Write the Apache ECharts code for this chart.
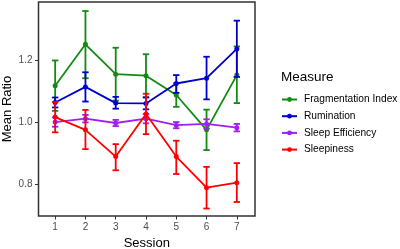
<!DOCTYPE html>
<html><head><meta charset="utf-8">
<script src="https://cdn.jsdelivr.net/npm/echarts@6/dist/echarts.min.js"></script>
<style>html,body{margin:0;padding:0;background:#fff}#c{width:400px;height:249px}</style>
</head><body><div id="c"></div>
<script>
const sessions = [1, 2, 3, 4, 5, 6, 7];
const xTicks = [1, 2, 3, 4, 5, 6, 7];
const yTicks = [0.8, 1.0, 1.2];
const seriesNames = ['Fragmentation Index', 'Rumination', 'Sleep Efficiency', 'Sleepiness'];
const fragMean = [1.117, 1.250, 1.154, 1.149, 1.087, 0.975, 1.151];
const fragLo   = [1.036, 1.141, 1.069, 1.080, 1.049, 0.910, 1.061];
const fragHi   = [1.198, 1.357, 1.239, 1.218, 1.125, 1.040, 1.243];
const rumMean  = [1.063, 1.113, 1.061, 1.060, 1.124, 1.141, 1.235];
const rumLo    = [1.047, 1.066, 1.043, 1.041, 1.094, 1.073, 1.145];
const rumHi    = [1.079, 1.160, 1.081, 1.079, 1.151, 1.210, 1.326];
const effMean  = [1.000, 1.011, 0.997, 1.011, 0.990, 0.994, 0.982];
const effLo    = [0.985, 0.999, 0.987, 0.996, 0.980, 0.979, 0.970];
const effHi    = [1.015, 1.023, 1.007, 1.026, 1.000, 1.009, 0.994];
const slpMean  = [1.016, 0.975, 0.889, 1.026, 0.889, 0.789, 0.805];
const slpLo    = [0.967, 0.913, 0.845, 0.961, 0.833, 0.722, 0.743];
const slpHi    = [1.064, 1.039, 0.929, 1.091, 0.940, 0.856, 0.868];
const colors = ['#138a13', '#0000cd', '#a020f0', '#ff0000'];

const means = [fragMean, rumMean, effMean, slpMean];
const los = [fragLo, rumLo, effLo, slpLo];
const his = [fragHi, rumHi, effHi, slpHi];

const chart = echarts.init(document.getElementById('c'), null, {renderer: 'canvas'});
const series = [];
seriesNames.forEach((name, i) => {
  series.push({
    name: name,
    type: 'line',
    data: sessions.map((s, k) => [s, means[i][k]]),
    symbol: 'circle',
    symbolSize: 5,
    lineStyle: {width: 1.8, color: colors[i]},
    itemStyle: {color: colors[i]},
    z: 2 + i * 2,
    animation: false
  });
  series.push({
    name: name + ' err',
    type: 'custom',
    data: sessions.map((s, k) => [s, los[i][k], his[i][k]]),
    encode: {x: 0, y: [1, 2]},
    z: 3 + i * 2,
    animation: false,
    renderItem: function (params, api) {
      const x = api.value(0);
      const lo = api.coord([x, api.value(1)]);
      const hi = api.coord([x, api.value(2)]);
      const hw = 3.2;
      const st = {stroke: colors[i], lineWidth: 1.8, fill: null};
      return {type: 'group', children: [
        {type: 'line', shape: {x1: lo[0], y1: lo[1], x2: hi[0], y2: hi[1]}, style: st},
        {type: 'line', shape: {x1: lo[0] - hw, y1: lo[1], x2: lo[0] + hw, y2: lo[1]}, style: st},
        {type: 'line', shape: {x1: hi[0] - hw, y1: hi[1], x2: hi[0] + hw, y2: hi[1]}, style: st}
      ]};
    }
  });
});

chart.setOption({
  backgroundColor: '#fff',
  animation: false,
  textStyle: {fontFamily: 'Liberation Sans, Arial, sans-serif'},
  title: {
    text: 'Measure', left: 276, top: 65,
    textStyle: {fontSize: 13.5, fontWeight: 'normal', color: '#000', fontFamily: 'Liberation Sans'}
  },
  legend: {
    data: seriesNames,
    orient: 'vertical',
    left: 276, top: 87.5,
    itemWidth: 15, itemHeight: 6,
    itemGap: 2.7,
    textStyle: {fontSize: 10.2, color: '#000', lineHeight: 14, padding: [0, 0, 0, 2], fontFamily: 'Liberation Sans'}
  },
  grid: {left: 38.5, top: 2, right: 145, bottom: 33, containLabel: false, outerBoundsMode: 'none',
    show: true, borderColor: '#333', borderWidth: 1.5, backgroundColor: '#fff'},
  xAxis: {
    type: 'value', min: 0.45, max: 7.6,
    name: 'Session', nameLocation: 'middle', nameGap: 21, nameMoveOverlap: false,
    nameTextStyle: {fontSize: 13, color: '#000', fontFamily: 'Liberation Sans'},
    axisLine: {show: false},
    splitLine: {show: false},
    axisTick: {show: true, length: 3.5, lineStyle: {color: '#333', width: 1}, customValues: xTicks},
    axisLabel: {customValues: xTicks, fontSize: 10, color: '#4d4d4d', margin: 6, fontFamily: 'Liberation Sans'}
  },
  yAxis: {
    type: 'value', min: 0.698, max: 1.386,
    name: 'Mean Ratio', nameLocation: 'middle', nameGap: 31, nameRotate: 90, nameMoveOverlap: false,
    nameTextStyle: {fontSize: 13, color: '#000', fontFamily: 'Liberation Sans', verticalAlign: 'middle'},
    axisLine: {show: false},
    splitLine: {show: false},
    axisTick: {show: true, length: 3.5, lineStyle: {color: '#333', width: 1}, customValues: yTicks},
    axisLabel: {customValues: yTicks, fontSize: 10, color: '#4d4d4d', margin: 6, fontFamily: 'Liberation Sans',
      formatter: v => v.toFixed(1)}
  },
  series: series
});
</script></body></html>
